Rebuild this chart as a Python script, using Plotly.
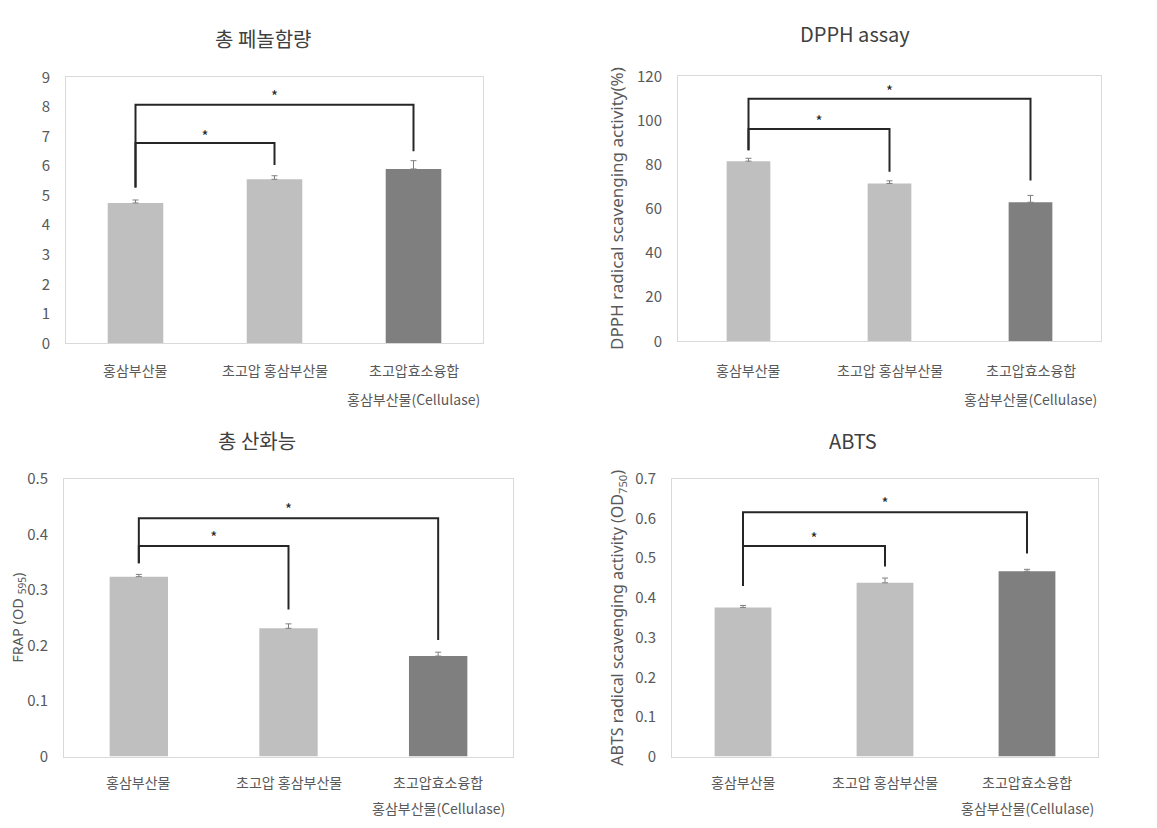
import plotly.graph_objects as go

W, H = 1157, 828

# Sample groups (x-axis categories)
cat_line1 = ["홍삼부산물", "초고압 홍삼부산물", "초고압효소융합"]
cat_line2 = ["", "", "홍삼부산물(Cellulase)"]

# Panel values: mean and SD
phenol_mean = [4.75, 5.55, 5.90]
phenol_err = [0.10, 0.12, 0.28]
dpph_mean = [81.6, 71.5, 63.0]
dpph_err = [1.3, 1.2, 3.1]
frap_mean = [0.324, 0.231, 0.181]
frap_err = [0.004, 0.008, 0.007]
abts_mean = [0.376, 0.438, 0.467]
abts_err = [0.005, 0.012, 0.005]

# Significance brackets: [start, short_top, short_end, long_top, long_end]
phenol_brk = [5.27, 6.78, 6.03, 8.07, 6.50]
dpph_brk = [86.5, 96.2, 76.8, 109.8, 72.8]
frap_brk = [0.348, 0.379, 0.265, 0.429, 0.210]
abts_brk = [0.430, 0.531, 0.479, 0.616, 0.512]
# Asterisk heights: [short, long]
phenol_star = [6.95, 8.30]
dpph_star = [98.8, 112.2]
frap_star = [0.392, 0.442]
abts_star = [0.546, 0.633]

bar_colors = ["#bfbfbf", "#bfbfbf", "#7f7f7f"]
TXT = "#595959"
FONT = "Noto Sans CJK KR"
LATIN = "Noto Sans, Noto Sans CJK KR"


def px(x):
    return x / W


def py(y):
    return 1 - y / H


panels = [
    dict(title="총 페놀함량", mean=phenol_mean, err=phenol_err, brk=phenol_brk, star=phenol_star,
         box=(66, 67, 483, 340), rng=[0, 9], dtick=1, width=0.40, title_xy=(263, 27),
         ytitle=None, ytitle_x=None, ytitle_size=None, lab_y=(367, 397)),
    dict(title="DPPH assay", mean=dpph_mean, err=dpph_err, brk=dpph_brk, star=dpph_star,
         box=(678, 66, 1101, 338), rng=[0, 120], dtick=20, width=0.31, title_xy=(855, 22),
         ytitle="DPPH radical scavenging activity(%)", ytitle_x=617, ytitle_size=17,
         lab_y=(367, 397)),
    dict(title="총 산화능", mean=frap_mean, err=frap_err, brk=frap_brk, star=frap_star,
         box=(64, 479, 513, 764), rng=[0, 0.5], dtick=0.1, width=0.39, title_xy=(257, 440),
         ytitle="FRAP (OD <sub>595</sub>)", ytitle_x=18, ytitle_size=14.5, lab_y=(790, 817)),
    dict(title="ABTS", mean=abts_mean, err=abts_err, brk=abts_brk, star=abts_star,
         box=(672, 479, 1098, 764), rng=[0, 0.7], dtick=0.1, width=0.40, title_xy=(853, 440),
         ytitle="ABTS radical scavenging activity (OD<sub>750</sub>)", ytitle_x=618,
         ytitle_size=16, lab_y=(790, 817)),
]

fig = go.Figure()
annotations = []
layout = {}

for i, p in enumerate(panels, start=1):
    xa = "x" if i == 1 else f"x{i}"
    ya = "y" if i == 1 else f"y{i}"
    x0, y0, x1, y1 = p["box"]
    idx = [0, 1, 2]

    fig.add_trace(go.Bar(
        x=idx, y=p["mean"], width=p["width"], marker=dict(color=bar_colors, line=dict(width=0)),
        error_y=dict(type="data", array=p["err"], arrayminus=[0, 0, 0], symmetric=False,
                     color="#7f7f7f", thickness=1, width=3),
        xaxis=xa, yaxis=ya, showlegend=False, hoverinfo="skip"))

    s, hs, es, hl, el = p["brk"]
    fig.add_trace(go.Scatter(x=[0, 0, 1, 1], y=[s, hs, hs, es], mode="lines",
                             line=dict(color="#262626", width=2), xaxis=xa, yaxis=ya,
                             showlegend=False, hoverinfo="skip"))
    fig.add_trace(go.Scatter(x=[0, 0, 2, 2], y=[s, hl, hl, el], mode="lines",
                             line=dict(color="#262626", width=2), xaxis=xa, yaxis=ya,
                             showlegend=False, hoverinfo="skip"))
    fig.add_trace(go.Scatter(x=[0.5, 1.0], y=p["star"], mode="text", text=["*", "*"],
                             textfont=dict(family=FONT, size=15, color="#262626"),
                             xaxis=xa, yaxis=ya, showlegend=False, hoverinfo="skip"))

    key_x = "xaxis" if i == 1 else f"xaxis{i}"
    key_y = "yaxis" if i == 1 else f"yaxis{i}"
    layout[key_x] = dict(domain=[px(x0), px(x1)], anchor=ya, range=[-0.5, 2.5],
                         showticklabels=False, ticks="", showgrid=False, zeroline=False,
                         showline=True, mirror=True, linecolor="#d9d9d9", linewidth=1,
                         fixedrange=True)
    layout[key_y] = dict(domain=[py(y1), py(y0)], anchor=xa, range=p["rng"], dtick=p["dtick"],
                         tick0=0, ticks="", showgrid=False, zeroline=False,
                         showline=True, mirror=True, linecolor="#d9d9d9", linewidth=1,
                         ticklabelstandoff=12,
                         tickfont=dict(family=FONT, size=15, color=TXT), fixedrange=True)

    # Panel title
    tx, ty = p["title_xy"]
    annotations.append(dict(text=p["title"], x=px(tx), y=py(ty), xref="paper", yref="paper",
                            xanchor="center", yanchor="middle", showarrow=False,
                            font=dict(family=FONT, size=20, color="#404040")))
    # Y-axis title
    if p["ytitle"]:
        annotations.append(dict(text=p["ytitle"], x=px(p["ytitle_x"]), y=py((y0 + y1) / 2),
                                xref="paper", yref="paper", textangle=-90,
                                xanchor="center", yanchor="middle", showarrow=False,
                                font=dict(family=LATIN, size=p["ytitle_size"], color=TXT)))
    # Category labels
    for k in idx:
        for line, ly in zip((cat_line1[k], cat_line2[k]), p["lab_y"]):
            if line:
                annotations.append(dict(text=line, x=k, xref=xa, y=py(ly), yref="paper",
                                        xanchor="center", yanchor="middle", showarrow=False,
                                        font=dict(family=FONT, size=14, color=TXT)))

fig.update_layout(
    width=W, height=H, margin=dict(l=0, r=0, t=0, b=0),
    paper_bgcolor="white", plot_bgcolor="white",
    annotations=annotations, **layout)

fig.write_html("out.html")
